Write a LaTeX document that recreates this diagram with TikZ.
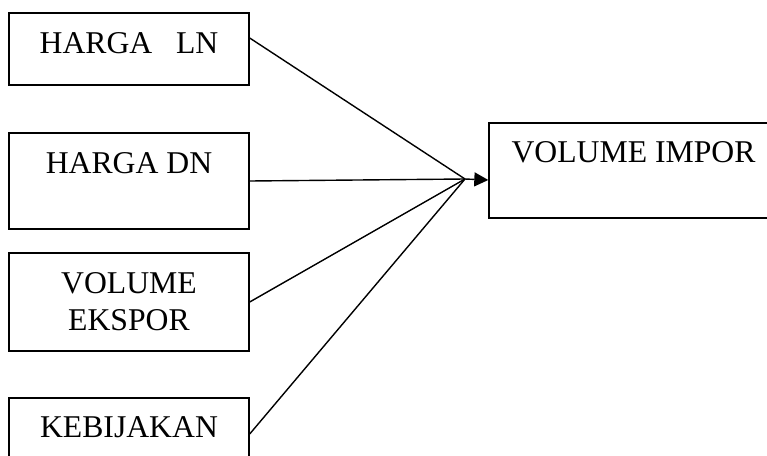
\documentclass[tikz,border=0pt]{standalone}
\usepackage{fontspec}
\setmainfont{Liberation Serif}
\usetikzlibrary{arrows.meta}
\begin{document}
\begin{tikzpicture}[x=1pt,y=-1pt,
  box/.style={draw, line width=1.4pt, rectangle, inner sep=0pt},
  txt/.style={anchor=base, inner sep=0pt, font=\fontsize{31.7}{37}\selectfont, align=center},
  conn/.style={line width=1.4pt}]
\useasboundingbox (0,0) rectangle (767,455);
\clip (0,0) rectangle (767,455);
\node[box, minimum width=240pt, minimum height=72pt] (ln) at (129,49) {};
\node[box, minimum width=240pt, minimum height=96pt] (dn) at (129,181) {};
\node[box, minimum width=240pt, minimum height=98pt] (ek) at (129,302) {};
\node[box, minimum width=240pt, minimum height=72pt] (kb) at (129,434) {};
\node[box, minimum width=301pt, minimum height=95pt] (imp) at (639.5,170.5) {};
\node[txt] (tln) at (129,53) {HARGA\ \ \ LN};
\node[txt] (tdn) at (129,173) {HARGA DN};
\node[txt] (tek1) at (129,293) {VOLUME};
\node[txt] (tek2) at (129,330) {EKSPOR};
\node[txt] (tkb) at (129,437) {KEBIJAKAN};
\node[txt] (timp) at (633.5,162) {VOLUME IMPOR};
\coordinate (p) at (465,179);
\draw[conn] ([yshift=11pt]ln.east) -- (p);
\draw[conn] (dn.east) -- (p);
\draw[conn] (ek.east) -- (p);
\draw[conn] (kb.east) -- (p);
\draw[conn, -{Triangle[length=14pt,width=14pt]}] (p) -- ([yshift=-9.5pt]imp.west);
\end{tikzpicture}
\end{document}
